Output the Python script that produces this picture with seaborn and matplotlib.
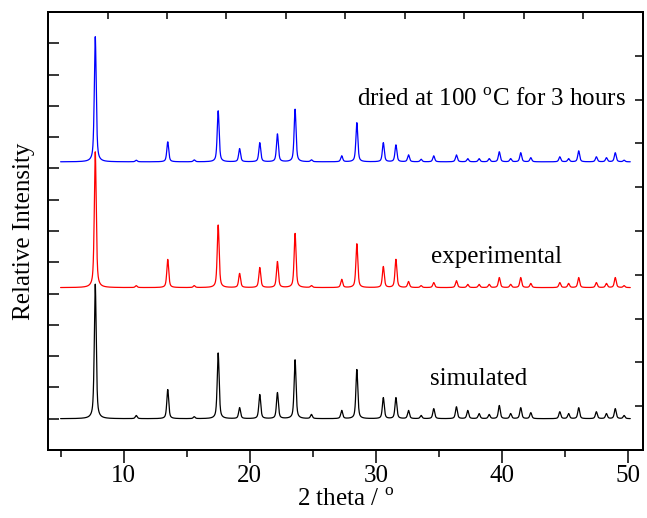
import numpy as np
import pandas as pd
import matplotlib
matplotlib.use("Agg")
import matplotlib.pyplot as plt
import seaborn as sns

# peak positions (2 theta, degrees)
peak_pos = [7.75, 11.0, 13.5, 15.6, 17.5, 19.2, 20.8, 22.2, 23.6, 24.9,
            27.3, 28.5, 30.6, 31.6, 32.6, 33.6, 34.6, 36.4, 37.3, 38.2,
            39.0, 39.8, 40.7, 41.5, 42.3, 44.6, 45.3, 46.1, 47.5, 48.3,
            49.0, 49.7]

# peak heights (plot units, one tick on the left axis = 1)
simulated_h = [4.3, 0.10, 0.93, 0.06, 2.10, 0.35, 0.77, 0.83, 1.88, 0.13,
               0.26, 1.57, 0.67, 0.67, 0.26, 0.10, 0.32, 0.38, 0.26, 0.16,
               0.13, 0.42, 0.16, 0.35, 0.19, 0.22, 0.16, 0.35, 0.22, 0.16,
               0.32, 0.10]
experimental_h = [4.34, 0.06, 0.90, 0.06, 2.00, 0.45, 0.64, 0.83, 1.73, 0.06,
                  0.26, 1.40, 0.67, 0.90, 0.19, 0.06, 0.16, 0.22, 0.10, 0.10,
                  0.10, 0.32, 0.10, 0.32, 0.13, 0.16, 0.13, 0.32, 0.16, 0.13,
                  0.32, 0.06]
dried_h = [4.0, 0.05, 0.64, 0.06, 1.63, 0.42, 0.61, 0.89, 1.68, 0.06,
           0.19, 1.25, 0.61, 0.54, 0.22, 0.08, 0.19, 0.22, 0.10, 0.10,
           0.10, 0.32, 0.10, 0.29, 0.13, 0.16, 0.10, 0.35, 0.16, 0.13,
           0.29, 0.05]

# vertical offsets of the three patterns
offsets = {"simulated": 0.0, "experimental": 4.19, "dried": 8.21}
colors = {"simulated": "black", "experimental": "#ff0000", "dried": "#0000ff"}


def profile(tt, pos, heights, fwhm=0.18, eta=0.6):
    # pseudo-Voigt peaks placed at the read positions
    y = np.zeros_like(tt)
    g = fwhm / 2.0
    for p, h in zip(pos, heights):
        d = tt - p
        lor = 1.0 / (1.0 + (d / g) ** 2)
        gau = np.exp(-np.log(2) * (d / g) ** 2)
        y += h * (eta * lor + (1 - eta) * gau)
    return y


tt = np.arange(5.0, 50.2, 0.01)
frames = []
for name, h in [("simulated", simulated_h), ("experimental", experimental_h), ("dried", dried_h)]:
    frames.append(pd.DataFrame({"two_theta": tt,
                                "intensity": profile(tt, peak_pos, h) + offsets[name],
                                "pattern": name}))
df = pd.concat(frames, ignore_index=True)

sns.set_style("ticks")
plt.rcParams["font.family"] = ["Liberation Serif", "DejaVu Serif"]
plt.rcParams["mathtext.fontset"] = "custom"
plt.rcParams["mathtext.rm"] = "Liberation Serif"
plt.rcParams["text.color"] = "black"
plt.rcParams["axes.labelcolor"] = "black"
plt.rcParams["axes.edgecolor"] = "black"
plt.rcParams["xtick.color"] = "black"
plt.rcParams["ytick.color"] = "black"

fig = plt.figure(figsize=(6.47, 5.18), dpi=100)
ax = fig.add_axes([48 / 647, 1 - 450 / 518, 595 / 647, 438 / 518])

for name in ["simulated", "experimental", "dried"]:
    sns.lineplot(data=df[df["pattern"] == name], x="two_theta", y="intensity",
                 color=colors[name], lw=0.9, estimator=None, sort=False, ax=ax)

ax.set_xlim(4.0, 51.2)
ax.set_ylim(-1, 13)
ax.set_xticks([10, 20, 30, 40, 50])
ax.set_xticks([5, 15, 25, 35, 45], minor=True)
ax.set_yticks(range(0, 13))
ax.set_yticklabels([])
ax.tick_params(axis="x", which="major", direction="out", length=9, width=1.1,
               labelsize=18, pad=2)
ax.tick_params(axis="x", which="minor", direction="out", length=5, width=1.1)
ax.tick_params(axis="y", direction="in", length=8, width=1.1)
for s in ax.spines.values():
    s.set_linewidth(1.4)

ax.set_xlabel("2 theta / $^{\\mathregular{o}}$", fontsize=18, labelpad=1)
ax.set_ylabel("Relative Intensity", fontsize=18, labelpad=6)

# top and right axes carry their own evenly spaced inward ticks
ax_top = ax.twiny()
ax_top.set_xlim(0, 10)
ax_top.set_xticks(range(11))
ax_top.tick_params(axis="x", direction="in", length=5, width=1.1, labeltop=False)
ax_right = ax.twinx()
ax_right.set_ylim(0, 10)
ax_right.set_yticks(range(11))
ax_right.tick_params(axis="y", direction="in", length=6, width=1.1, labelright=False)
for a in (ax_top, ax_right):
    for s in a.spines.values():
        s.set_linewidth(1.4)

ax.text(28.5, 10.0, "dried at 100 $^{\\mathregular{o}}$C for 3 hours", fontsize=18, va="baseline")
ax.text(34.4, 4.98, "experimental", fontsize=18, va="baseline")
ax.text(34.3, 1.09, "simulated", fontsize=18, va="baseline")

fig.savefig("out.png", dpi=100)
